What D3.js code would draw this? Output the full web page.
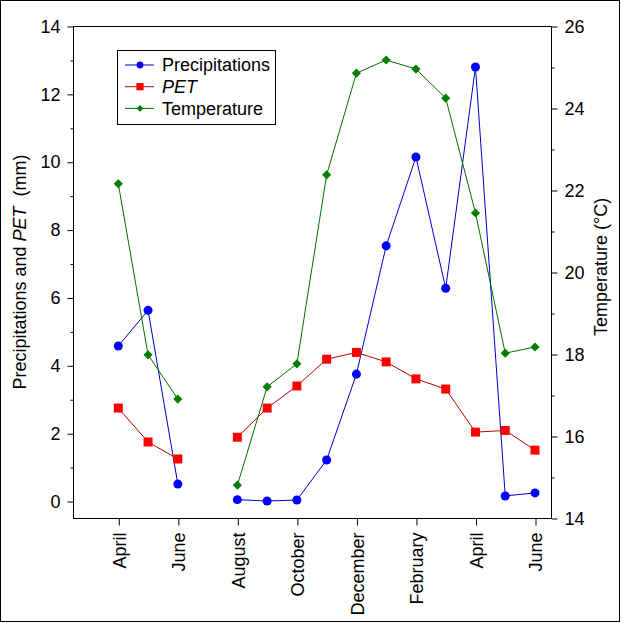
<!DOCTYPE html>
<html><head><meta charset="utf-8">
<script src="https://cdn.jsdelivr.net/npm/d3@7"></script>
<style>body{margin:0;background:#fff}svg{display:block}text{font-family:"Liberation Sans",Arial,sans-serif}</style>
</head><body>
<script>
const months = ["April","May","June","July","August","September","October","November","December","January","February","March","April","May","June"];
const tickLabelIdx = [0,2,4,6,8,10,12,14];
const precip = [4.57,5.62,0.5,null,0.04,0.0,0.03,1.21,3.74,7.52,10.14,6.27,12.79,0.15,0.24];
const pet = [2.74,1.74,1.24,null,1.88,2.74,3.39,4.18,4.38,4.1,3.6,3.3,2.03,2.08,1.5];
const temp = [22.15,17.98,16.9,null,14.8,17.2,17.76,22.37,24.85,25.17,24.95,24.24,21.44,18.02,18.17];
const leftTicks = [0,2,4,6,8,10,12,14];
const rightTicks = [14,16,18,20,22,24,26];

const W=623,H=623,FS=18;
const svg=d3.select("body").append("svg").attr("width",W).attr("height",H);
svg.append("rect").attr("x",0.5).attr("y",0.5).attr("width",619).attr("height",621).attr("fill","#fff").attr("stroke","#000");

const L=73,R=551,T=26,B=518;
const x=d3.scaleLinear().domain([0,14]).range([118.3,535]);
const yL=d3.scaleLinear().domain([-0.5,14]).range([B,T]);
const yR=d3.scaleLinear().domain([14,26]).range([B,T]);

// frame
svg.append("rect").attr("x",L+0.5).attr("y",T+0.5).attr("width",R-L).attr("height",B-T).attr("fill","none").attr("stroke","#000");

// left axis
svg.append("g").attr("transform",`translate(${L+0.5},0.5)`)
  .call(d3.axisLeft(yL).tickValues(leftTicks).tickSize(6).tickSizeOuter(0).tickPadding(7));
svg.append("g").attr("transform",`translate(${L+0.5},0.5)`)
  .call(d3.axisLeft(yL).tickValues(d3.range(1,14,2)).tickSize(3).tickFormat("").tickSizeOuter(0));
// right axis
svg.append("g").attr("transform",`translate(${R+0.5},0.5)`)
  .call(d3.axisRight(yR).tickValues(rightTicks).tickSize(6).tickSizeOuter(0).tickPadding(7));
svg.append("g").attr("transform",`translate(${R+0.5},0.5)`)
  .call(d3.axisRight(yR).tickValues(d3.range(15,26,2)).tickSize(3).tickFormat("").tickSizeOuter(0));
// bottom axis
const gb=svg.append("g").attr("transform",`translate(0.5,${B+0.5})`)
  .call(d3.axisBottom(x).tickValues(tickLabelIdx).tickFormat(i=>months[i]).tickSize(7).tickSizeOuter(0));
gb.selectAll("text").attr("transform","rotate(-90)").attr("text-anchor","end").attr("x",-14).attr("y",0).attr("dy","0.35em");
svg.selectAll(".domain").remove();
svg.selectAll(".tick line").attr("stroke","#000");
svg.selectAll(".tick text").attr("font-size",FS).attr("fill","#000").attr("font-family","Liberation Sans, Arial, sans-serif");

// titles
const lt=svg.append("text").attr("transform",`translate(26,272) rotate(-90)`).attr("text-anchor","middle").attr("font-size",FS);
lt.append("tspan").text("Precipitations and ");
lt.append("tspan").attr("font-style","italic").text("PET");
lt.append("tspan").text("\u00a0 (mm)");
svg.append("text").attr("transform",`translate(607,267) rotate(-90)`).attr("text-anchor","middle").attr("font-size",FS).text("Temperature (\u00b0C)");

const diamond={draw(ctx,size){const s=Math.sqrt(size/2);ctx.moveTo(0,-s);ctx.lineTo(s,0);ctx.lineTo(0,s);ctx.lineTo(-s,0);ctx.closePath();}};
const series=[
  {vals:precip,y:yL,line:"#0000c8",fill:"#0000ff",shape:d3.symbolCircle,size:64,lsize:36},
  {vals:pet,y:yL,line:"#c00000",fill:"#ff0000",shape:d3.symbolSquare,size:81,lsize:52},
  {vals:temp,y:yR,line:"#007000",fill:"#007f00",shape:diamond,size:42,lsize:24}
];
series.forEach(s=>{
  const line=d3.line().defined(d=>d!=null).x((d,i)=>x(i)).y(d=>s.y(d));
  svg.append("path").attr("d",line(s.vals)).attr("fill","none").attr("stroke",s.line).attr("stroke-width",1);
});
series.forEach(s=>{
  svg.append("g").selectAll("path").data(s.vals.map((v,i)=>({v,i})).filter(d=>d.v!=null)).join("path")
    .attr("transform",d=>`translate(${x(d.i)},${s.y(d.v)})`)
    .attr("d",d3.symbol(s.shape,s.size)).attr("fill",s.fill);
});

// legend
const lg=svg.append("g");
lg.append("rect").attr("x",117.5).attr("y",50.5).attr("width",158).attr("height",74).attr("fill","#fff").attr("stroke","#000");
const names=["Precipitations","PET","Temperature"];
series.forEach((s,k)=>{
  const yy=65+k*21.7;
  lg.append("line").attr("x1",125).attr("x2",154).attr("y1",yy).attr("y2",yy).attr("stroke",s.line).attr("stroke-width",1);
  lg.append("path").attr("transform",`translate(140,${yy})`).attr("d",d3.symbol(s.shape,s.lsize)).attr("fill",s.fill);
  lg.append("text").attr("x",162).attr("y",yy).attr("dy","0.35em").attr("font-size",FS)
    .attr("font-style",k===1?"italic":"normal").text(names[k]);
});
</script>
</body></html>
